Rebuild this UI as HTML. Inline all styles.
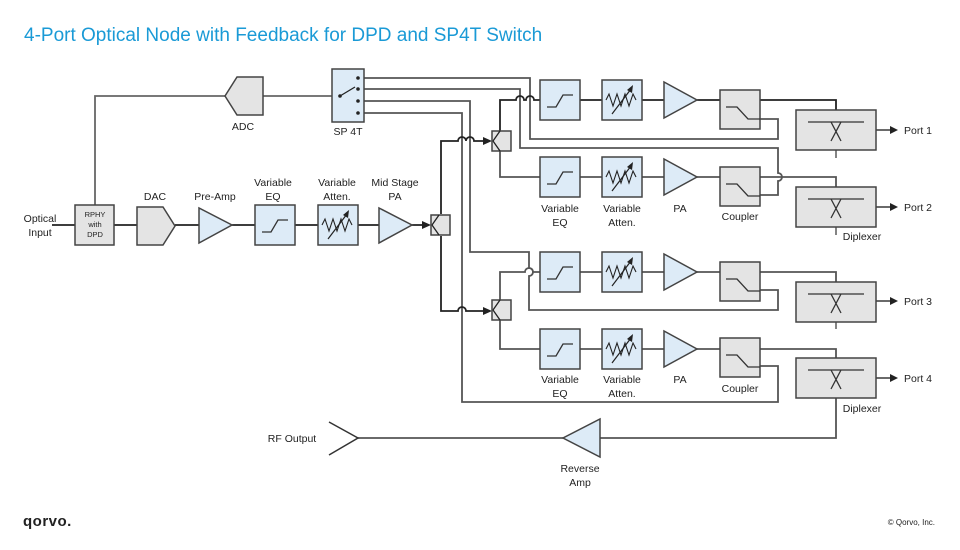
<!DOCTYPE html>
<html><head><meta charset="utf-8"><style>
html,body{margin:0;padding:0;background:#fff;}
svg{display:block;font-family:"Liberation Sans",sans-serif;}
</style></head><body>
<svg width="960" height="550" viewBox="0 0 960 550" xmlns="http://www.w3.org/2000/svg">
<defs>
<g id="eq"><rect x="0" y="0" width="40" height="40" fill="#ddebf7" stroke="#444" stroke-width="1.5"/><path d="M7 27 H16 L23 15 H33" fill="none" stroke="#333" stroke-width="1.3"/></g>
<g id="att"><rect x="0" y="0" width="40" height="40" fill="#ddebf7" stroke="#444" stroke-width="1.5"/><path d="M4 20 l3 -6 l4 12 l4 -12 l4 12 l4 -12 l4 12 l4 -12 l3 6" fill="none" stroke="#222" stroke-width="1.1"/><path d="M10 34 L29 9" stroke="#222" stroke-width="1.2"/><polygon points="31,5 25,10 30,13" fill="#222"/></g>
<g id="cpl"><rect x="0" y="0" width="40" height="39" fill="#e4e4e4" stroke="#444" stroke-width="1.5"/><path d="M6 17 H17 L28 29 H40" fill="none" stroke="#333" stroke-width="1.3"/></g>
<g id="dip"><rect x="0" y="0" width="80" height="40" fill="#e4e4e4" stroke="#444" stroke-width="1.5"/><path d="M12 12 H68 M35 12 L45 31 M45 12 L35 31" fill="none" stroke="#333" stroke-width="1.3"/></g>
<g id="spl"><rect x="0" y="0" width="19" height="20" fill="#e4e4e4" stroke="#444" stroke-width="1.5"/><path d="M1 10 L8 0 M1 10 L8 20" stroke="#222" stroke-width="1.3"/></g>
</defs>

<text x="24" y="41" font-size="19" fill="#1a9ad6">4-Port Optical Node with Feedback for DPD and SP4T Switch</text>

<g fill="none" stroke-width="1.8">
<path d="M52 225 H75 M114 225 H137 M175 225 H199 M232 225 H255 M295 225 H318 M358 225 H379 M412 225 H424" stroke="#222"/>
<path d="M95 205 V96 H225 M263 96 H340" stroke="#666"/>
<path d="M358 78 H530 V139 H778 V119 H760" stroke="#555"/>
<path d="M358 89 H520 V148 H778 V173 a4 4 0 0 1 0 8 V195 H760" stroke="#555"/>
<path d="M358 101 H470 V252 H529 V268 a4 4 0 0 1 0 8 V310 H778 V290 H760" stroke="#555"/>
<path d="M358 113 H462 V402 H778 V366 H760" stroke="#555"/>
<path d="M441 214 V141 H458 a4 4 0 0 1 8 0 a4 4 0 0 1 8 0 H486" stroke="#222"/>
<path d="M441 236 V311 H458 a4 4 0 0 1 8 0 H486" stroke="#222"/>
<path d="M500 131 V100 H516 a4 4 0 0 1 8 0 H526 a4 4 0 0 1 8 0 H540" stroke="#222"/>
<path d="M500 150 V177 H540" stroke="#555"/>
<path d="M500 300 V272 H525 a4 4 0 0 1 8 0 H540" stroke="#555"/>
<path d="M500 320 V349 H540" stroke="#555"/>
<path d="M580 100 H602 M642 100 H664 M697 100 H836 V110" stroke="#222"/>
<path d="M580 177 H602 M642 177 H664 M697 177 H836 V187" stroke="#555"/>
<path d="M580 272 H602 M642 272 H664 M697 272 H836 V282" stroke="#555"/>
<path d="M580 349 H602 M642 349 H664 M697 349 H836 V358" stroke="#555"/>
<path d="M836 150 V158 M836 227 V235 M836 321 V329" stroke="#777"/>
<path d="M836 398 V438 H600 M563 438 H358" stroke="#555"/>
<path d="M876 130 H892 M876 207 H892 M876 301 H892 M876 378 H892" stroke="#555"/>
</g>
<g fill="#222">
<polygon points="898,130 890,126 890,134"/><polygon points="898,207 890,203 890,211"/>
<polygon points="898,301 890,297 890,305"/><polygon points="898,378 890,374 890,382"/>
<polygon points="431,225 422,221 422,229"/><polygon points="492,141 483,137 483,145"/><polygon points="492,311 483,307 483,315"/>
</g>

<rect x="75" y="205" width="39" height="40" fill="#e4e4e4" stroke="#444" stroke-width="1.5"/>
<text font-size="7.5" text-anchor="middle" fill="#222"><tspan x="95" y="217">RPHY</tspan><tspan x="95" y="227">with</tspan><tspan x="95" y="237">DPD</tspan></text>
<polygon points="137,207 163,207 175,226 163,245 137,245" fill="#e4e4e4" stroke="#444" stroke-width="1.5"/>
<polygon points="263,77 237,77 225,96 237,115 263,115" fill="#e4e4e4" stroke="#444" stroke-width="1.5"/>
<polygon points="199,208 199,243 232,225" fill="#ddebf7" stroke="#444" stroke-width="1.5"/>
<use href="#eq" x="255" y="205"/>
<use href="#att" x="318" y="205"/>
<polygon points="379,208 379,243 412,225" fill="#ddebf7" stroke="#444" stroke-width="1.5"/>
<use href="#spl" x="431" y="215"/>
<use href="#spl" x="492" y="131"/>
<use href="#spl" x="492" y="300"/>

<rect x="332" y="69" width="32" height="53" fill="#ddebf7" stroke="#444" stroke-width="1.5"/>
<path d="M340 96 L355 87" stroke="#222" stroke-width="1.3"/>
<g fill="#222"><circle cx="340" cy="96" r="1.8"/><circle cx="358" cy="78" r="1.8"/><circle cx="358" cy="89" r="1.8"/><circle cx="358" cy="101" r="1.8"/><circle cx="358" cy="113" r="1.8"/></g>

<use href="#eq" x="540" y="80"/><use href="#att" x="602" y="80"/>
<polygon points="664,82 664,118 697,100" fill="#ddebf7" stroke="#444" stroke-width="1.5"/>
<use href="#cpl" x="720" y="90"/><use href="#dip" x="796" y="110"/>

<use href="#eq" x="540" y="157"/><use href="#att" x="602" y="157"/>
<polygon points="664,159 664,195 697,177" fill="#ddebf7" stroke="#444" stroke-width="1.5"/>
<use href="#cpl" x="720" y="167"/><use href="#dip" x="796" y="187"/>

<use href="#eq" x="540" y="252"/><use href="#att" x="602" y="252"/>
<polygon points="664,254 664,290 697,272" fill="#ddebf7" stroke="#444" stroke-width="1.5"/>
<use href="#cpl" x="720" y="262"/><use href="#dip" x="796" y="282"/>

<use href="#eq" x="540" y="329"/><use href="#att" x="602" y="329"/>
<polygon points="664,331 664,367 697,349" fill="#ddebf7" stroke="#444" stroke-width="1.5"/>
<use href="#cpl" x="720" y="338"/><use href="#dip" x="796" y="358"/>

<polygon points="600,419 600,457 563,438" fill="#ddebf7" stroke="#444" stroke-width="1.5"/>
<path d="M329 422 L358 438 L329 455" fill="none" stroke="#333" stroke-width="1.5"/>

<g font-size="10.5" fill="#222" text-anchor="middle">
<text x="40" y="222">Optical</text><text x="40" y="236">Input</text>
<text x="243" y="130">ADC</text><text x="348" y="135">SP 4T</text>
<text x="155" y="200">DAC</text><text x="215" y="200">Pre-Amp</text>
<text x="273" y="186">Variable</text><text x="273" y="200">EQ</text>
<text x="337" y="186">Variable</text><text x="337" y="200">Atten.</text>
<text x="395" y="186">Mid Stage</text><text x="395" y="200">PA</text>
<text x="560" y="212">Variable</text><text x="560" y="226">EQ</text>
<text x="622" y="212">Variable</text><text x="622" y="226">Atten.</text>
<text x="680" y="212">PA</text><text x="740" y="220">Coupler</text><text x="862" y="240">Diplexer</text>
<text x="560" y="383">Variable</text><text x="560" y="397">EQ</text>
<text x="622" y="383">Variable</text><text x="622" y="397">Atten.</text>
<text x="680" y="383">PA</text><text x="740" y="392">Coupler</text><text x="862" y="412">Diplexer</text>
<text x="580" y="472">Reverse</text><text x="580" y="486">Amp</text>
<text x="292" y="442">RF Output</text>
</g>
<g font-size="10.5" fill="#222">
<text x="904" y="134">Port 1</text><text x="904" y="211">Port 2</text>
<text x="904" y="305">Port 3</text><text x="904" y="382">Port 4</text>
</g>
<text x="23" y="526" font-size="15" font-weight="bold" fill="#222" letter-spacing="0.5">qorvo.</text>
<text x="935" y="525" font-size="8" fill="#222" text-anchor="end">© Qorvo, Inc.</text>
</svg>
</body></html>
